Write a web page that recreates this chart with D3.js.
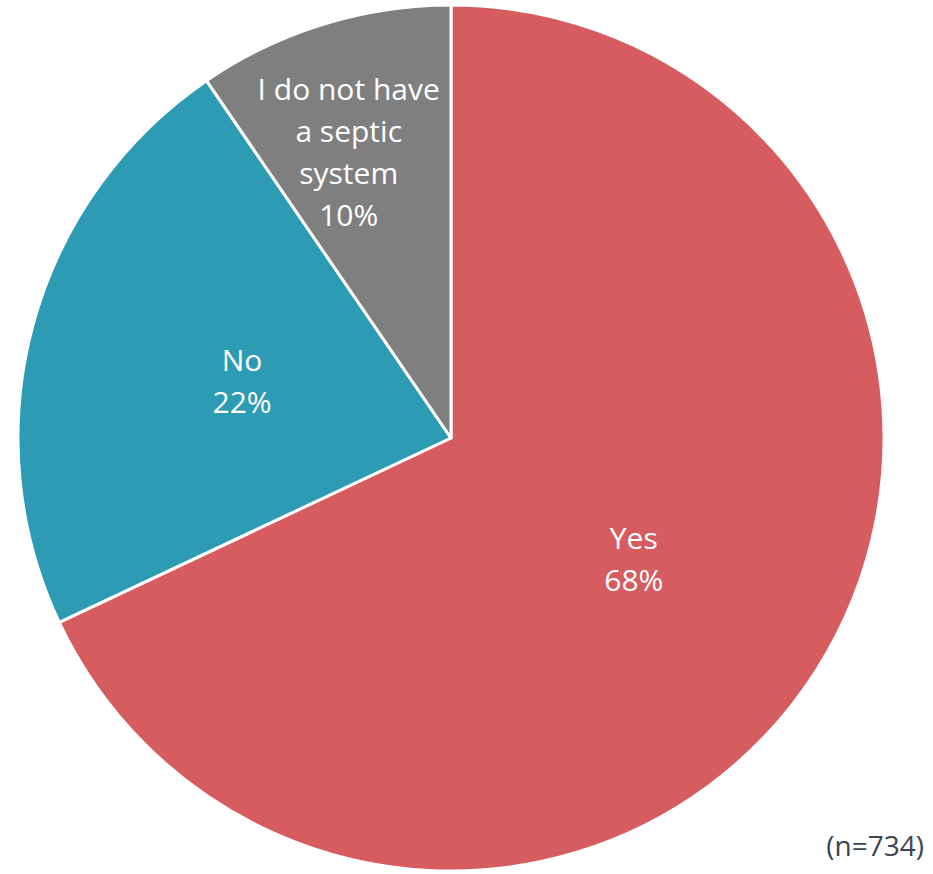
<!DOCTYPE html>
<html>
<head>
<meta charset="utf-8">
<script src="https://cdn.jsdelivr.net/npm/d3@7"></script>
<style>
  html, body { margin: 0; padding: 0; background: #fff; }
  svg { display: block; }
</style>
</head>
<body>
<svg id="chart" width="933" height="874"></svg>
<script>
const categories = ["Yes", "No", "I do not have a septic system"];
const labelLines = [["Yes"], ["No"], ["I do not have", "a septic", "system"]];
const values = [0.68, 0.2245, 0.0955];
const colors = ["#D75C60", "#2C9BB3", "#7F7F7F"];
const note = "(n=734)";

const svg = d3.select("#chart");
const cx = 451, cy = 438, R = 433;
const fontFam = "'Open Sans', Roboto, sans-serif";

const pie = d3.pie().sort(null).value(d => d)(values);
const arc = d3.arc().innerRadius(0).outerRadius(R);

const g = svg.append("g").attr("transform", `translate(${cx},${cy})`);
g.selectAll("path").data(pie).join("path")
  .attr("d", arc)
  .attr("fill", (d, i) => colors[i])
  .attr("stroke", "#fff")
  .attr("stroke-width", 3)
  .attr("stroke-linejoin", "round");

const fmt = d3.format(".0%");
const lh = 42;
pie.forEach((d, i) => {
  const mid = (d.startAngle + d.endAngle) / 2;
  const small = values[i] < 0.15;
  const rr = small ? 0.69 * R : 0.5 * R;
  let x = Math.sin(mid) * rr;
  let y = -Math.cos(mid) * rr;
  if (small) x -= 14;
  if (values[i] > 0.5) y += 5;
  const lines = labelLines[i].concat([fmt(values[i])]);
  const t = g.append("text")
    .attr("text-anchor", "middle")
    .attr("fill", "#fff")
    .attr("font-family", fontFam)
    .attr("font-size", 30);
  lines.forEach((ln, j) => {
    t.append("tspan")
      .attr("x", x)
      .attr("y", y + (j - (lines.length - 1) / 2) * lh)
      .attr("dy", "0.35em")
      .text(ln);
  });
});

svg.append("text")
  .attr("x", 924).attr("y", 846)
  .attr("text-anchor", "end")
  .attr("dy", "0.35em")
  .attr("fill", "#3B4650")
  .attr("font-family", fontFam)
  .attr("font-size", 28)
  .text(note);
</script>
</body>
</html>
